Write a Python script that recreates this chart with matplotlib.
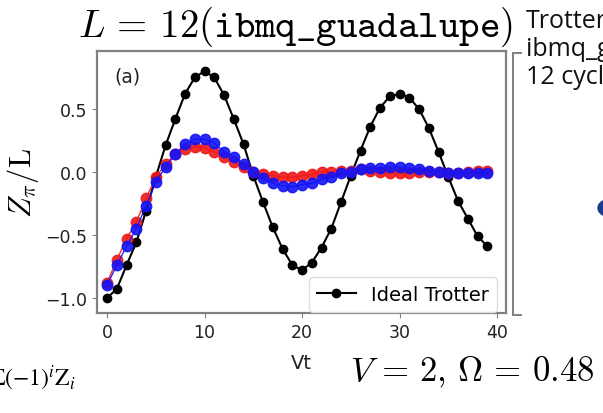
import matplotlib
matplotlib.use("Agg")
import matplotlib.pyplot as plt
from matplotlib.patches import Circle
from matplotlib.lines import Line2D

plt.rcParams['mathtext.fontset'] = 'cm'

# Vt steps
vt = list(range(40))

# ideal Trotter evolution (black)
ideal = [-1.00, -0.93, -0.74, -0.56, -0.31, -0.04, 0.21, 0.42, 0.62, 0.75,
         0.80, 0.75, 0.61, 0.42, 0.22, -0.03, -0.24, -0.44, -0.61, -0.74,
         -0.78, -0.72, -0.60, -0.45, -0.24, -0.03, 0.17, 0.36, 0.51, 0.60,
         0.62, 0.59, 0.50, 0.35, 0.16, -0.04, -0.23, -0.37, -0.51, -0.59]

# device runs (red / blue)
red = [-0.88, -0.70, -0.53, -0.40, -0.21, -0.04, 0.06, 0.14, 0.18, 0.20,
       0.19, 0.16, 0.12, 0.08, 0.04, 0.00, -0.02, -0.03, -0.04, -0.04,
       -0.03, -0.02, 0.00, 0.00, 0.01, 0.01, 0.02, 0.01, 0.00, -0.01,
       -0.01, -0.01, 0.00, 0.00, 0.00, -0.01, -0.01, 0.00, 0.01, 0.01]
blue = [-0.90, -0.74, -0.59, -0.45, -0.27, -0.08, 0.04, 0.14, 0.22, 0.26,
        0.26, 0.23, 0.16, 0.12, 0.06, 0.00, -0.05, -0.09, -0.11, -0.12,
        -0.10, -0.09, -0.06, -0.04, -0.01, 0.00, 0.02, 0.03, 0.03, 0.04,
        0.04, 0.03, 0.02, 0.01, 0.00, -0.01, -0.01, -0.01, -0.01, -0.01]

xticks = [0, 10, 20, 30, 40]
yticks = [-1.0, -0.5, 0.0, 0.5]

W, H = 603, 414


def fx(px):
    return px / W


def fy(py):
    return 1 - py / H


fig = plt.figure(figsize=(W / 100, H / 100), dpi=100)
ax = fig.add_axes([fx(97), fy(314), 409 / W, 262 / H])

ax.plot(vt, ideal, '-o', color='black', lw=1.5, ms=6, label='Ideal Trotter', zorder=2)
ax.plot(vt, red, '-o', color='#f01818', lw=1.0, ms=7.5, alpha=0.9, zorder=3)
ax.plot(vt, blue, '-o', color='#1414f5', lw=1.0, ms=7.5, alpha=0.9, zorder=4)

ax.set_xlim(-1.03, 40.92)
ax.set_ylim(-1.12, 0.96)
ax.set_xticks(xticks)
ax.set_yticks(yticks)
ax.tick_params(labelsize=12.5, color='#808080', labelcolor='#222222')
for s in ax.spines.values():
    s.set_color('#808080')
    s.set_linewidth(1.6)

ax.set_xlabel('Vt', fontsize=14, color='#222222', labelpad=9)
ax.set_ylabel(r'$Z_\pi/\mathrm{L}$', fontsize=22, labelpad=3)
ax.text(0.075, 0.905, '(a)', transform=ax.transAxes, fontsize=13.5,
        ha='center', va='center', color='#222222')

ax.legend(loc='lower right', bbox_to_anchor=(0.978, 0.005), borderaxespad=0,
          fontsize=14, frameon=True, framealpha=1, edgecolor='#dddddd',
          fancybox=True)

# title and slide fragments around the plot
fig.text(fx(295), fy(27), r'$L\,=\,12(\mathtt{ibmq\_guadalupe})$', fontsize=28,
         ha='center', va='center')
fig.text(fx(350), fy(372), r'$V\,=\,2,\,\Omega\,=\,0.48$', fontsize=25,
         ha='left', va='center')
fig.text(fx(-10), fy(378), r'$\Sigma(-1)^i\mathrm{Z}_i$', fontsize=17,
         ha='left', va='center', math_fontfamily='stix')

for i, s in enumerate(['Trotter', 'ibmq_guadalupe', '12 cycles']):
    fig.text(fx(526), fy(28 + 28 * i), s, fontsize=18, family='Open Sans',
             ha='left', va='baseline', color='#111111')

# edge of the neighbouring panel
fig.add_artist(Line2D([fx(513), fx(513)], [fy(54), fy(316)], color='#808080', lw=1.4))
fig.add_artist(Line2D([fx(513), fx(521)], [fy(54), fy(54)], color='#808080', lw=1.4))
fig.add_artist(Line2D([fx(513), fx(521)], [fy(316), fy(316)], color='#808080', lw=1.4))

# bullet cut off at the right edge
fig.add_artist(Circle((fx(611), fy(209)), 13 / W, color='#1b3a8e',
                      transform=fig.transFigure))

fig.savefig('out.png', dpi=100)
